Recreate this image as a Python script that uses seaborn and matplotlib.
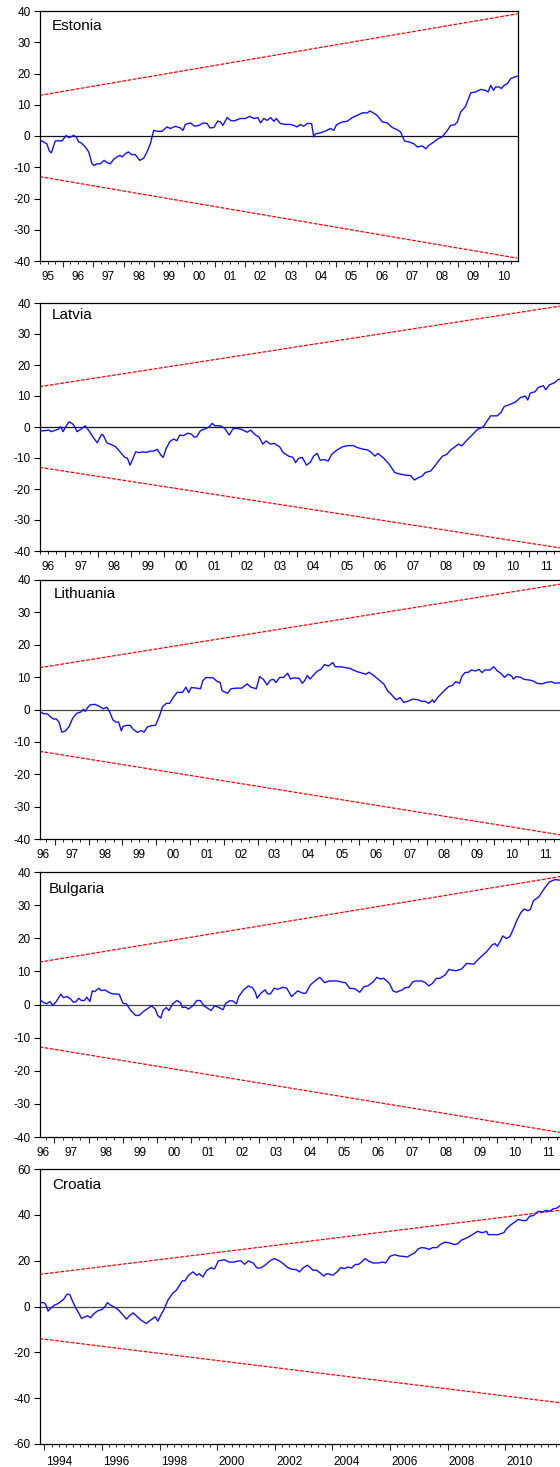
import numpy as np
import pandas as pd
import matplotlib
matplotlib.use("Agg")
import matplotlib.pyplot as plt
from matplotlib.ticker import FixedLocator
import seaborn as sns

# ---------------- DATA (CUSUM statistics) ----------------
countries = ["Estonia", "Latvia", "Lithuania", "Bulgaria", "Croatia"]

est_t = [1995.23, 1995.36, 1995.47, 1995.56, 1995.62, 1995.75, 1995.86, 1995.97, 1996.11, 1996.19,
         1996.26, 1996.35, 1996.44, 1996.52, 1996.60, 1996.74, 1996.85, 1996.96, 1997.03, 1997.12,
         1997.23, 1997.36, 1997.45, 1997.56, 1997.67, 1997.78, 1997.87, 1997.95, 1998.05, 1998.16,
         1998.27, 1998.38, 1998.53, 1998.66, 1998.77, 1998.88, 1998.99, 1999.10, 1999.26, 1999.43,
         1999.54, 1999.70, 1999.87, 1999.96, 2000.03, 2000.20, 2000.34, 2000.47, 2000.64, 2000.75,
         2000.84, 2000.97, 2001.10, 2001.19, 2001.27, 2001.41, 2001.52, 2001.63, 2001.74, 2001.85,
         2002.01, 2002.15, 2002.29, 2002.42, 2002.51, 2002.62, 2002.73, 2002.84, 2002.95, 2003.03,
         2003.16, 2003.33, 2003.49, 2003.60, 2003.71, 2003.82, 2003.93, 2004.04, 2004.19, 2004.26,
         2004.32, 2004.48, 2004.65, 2004.81, 2004.92, 2005.01, 2005.20, 2005.36, 2005.53, 2005.69,
         2005.86, 2006.02, 2006.11, 2006.22, 2006.35, 2006.52, 2006.68, 2006.85, 2007.01, 2007.12,
         2007.25, 2007.40, 2007.56, 2007.67, 2007.84, 2007.95, 2008.05, 2008.22, 2008.35, 2008.49,
         2008.66, 2008.77, 2008.90, 2008.99, 2009.10, 2009.26, 2009.43, 2009.59, 2009.76, 2009.92,
         2010.00, 2010.09, 2010.18, 2010.25, 2010.36, 2010.44, 2010.53, 2010.64, 2010.75, 2010.97]
est_v = [-1.2, -1.9, -2.5, -4.9, -5.4, -1.6, -1.5, -1.6, 0.2, -0.5,
         -0.3, 0.2, -0.3, -1.9, -2.2, -3.5, -5.1, -8.9, -9.4, -8.9,
         -8.9, -7.8, -8.5, -8.9, -7.5, -6.7, -6.2, -6.7, -5.7, -5.1,
         -6.0, -5.9, -7.8, -7.1, -5.1, -2.5, 1.8, 1.5, 1.5, 2.9,
         2.4, 3.1, 2.6, 1.8, 3.7, 4.2, 3.1, 3.4, 4.2, 4.0,
         2.6, 2.7, 4.8, 4.5, 3.4, 5.9, 5.0, 4.8, 5.2, 5.6,
         5.6, 6.3, 5.6, 5.9, 4.2, 5.6, 5.0, 5.9, 4.7, 5.6,
         4.0, 3.7, 3.7, 3.4, 2.9, 3.7, 3.1, 4.0, 4.0, -0.3,
         0.7, 1.0, 1.6, 2.4, 1.8, 3.6, 4.5, 4.7, 5.9, 6.6,
         7.4, 7.4, 8.0, 7.4, 6.6, 4.5, 4.2, 2.7, 2.0, 1.3,
         -1.6, -1.9, -2.5, -3.5, -3.2, -4.1, -3.0, -1.9, -0.9, -0.3,
         1.8, 3.4, 3.6, 4.5, 7.7, 9.5, 13.8, 14.1, 14.9, 14.6,
         14.1, 16.2, 14.6, 15.7, 15.7, 15.2, 16.2, 16.8, 18.4, 19.2]

lat_t = [1996.24, 1996.37, 1996.53, 1996.59, 1996.67, 1996.80, 1996.88, 1996.95, 1997.02, 1997.13,
         1997.24, 1997.29, 1997.37, 1997.48, 1997.62, 1997.73, 1997.87, 1997.98, 1998.11, 1998.16,
         1998.27, 1998.43, 1998.54, 1998.65, 1998.81, 1998.89, 1998.97, 1999.06, 1999.14, 1999.25,
         1999.35, 1999.46, 1999.57, 1999.68, 1999.79, 1999.90, 1999.97, 2000.06, 2000.17, 2000.28,
         2000.38, 2000.47, 2000.58, 2000.71, 2000.82, 2000.90, 2000.98, 2001.09, 2001.23, 2001.36,
         2001.45, 2001.52, 2001.69, 2001.82, 2001.96, 2002.07, 2002.17, 2002.34, 2002.50, 2002.61,
         2002.72, 2002.86, 2002.97, 2003.07, 2003.20, 2003.31, 2003.48, 2003.58, 2003.75, 2003.88,
         2003.96, 2004.05, 2004.16, 2004.29, 2004.40, 2004.51, 2004.61, 2004.70, 2004.83, 2004.94,
         2005.05, 2005.21, 2005.37, 2005.54, 2005.70, 2005.81, 2005.97, 2006.13, 2006.24, 2006.35,
         2006.44, 2006.62, 2006.78, 2006.95, 2007.11, 2007.27, 2007.43, 2007.54, 2007.65, 2007.78,
         2007.87, 2008.03, 2008.14, 2008.25, 2008.39, 2008.52, 2008.63, 2008.74, 2008.87, 2008.97,
         2009.11, 2009.28, 2009.44, 2009.55, 2009.62, 2009.73, 2009.84, 2010.04, 2010.15, 2010.25,
         2010.42, 2010.58, 2010.74, 2010.88, 2010.96, 2011.03, 2011.18, 2011.28, 2011.43, 2011.50,
         2011.61, 2011.77, 2011.88, 2011.97]
lat_v = [-1.3, -1.2, -1.0, -1.5, -1.2, -0.8, 0.1, -1.5, -0.1, 1.7,
         1.0, 0.3, -1.5, -0.8, 0.4, -1.2, -3.5, -5.1, -2.4, -2.6,
         -5.1, -5.8, -6.4, -7.8, -9.8, -10.1, -12.3, -10.1, -8.0, -8.3,
         -8.0, -8.2, -7.8, -7.8, -7.2, -9.1, -9.8, -6.9, -4.7, -3.9,
         -4.4, -2.6, -2.8, -2.0, -2.3, -3.3, -3.1, -1.2, -0.6, 0.1,
         1.2, 0.4, 0.4, -0.4, -2.6, -0.6, -0.4, -0.8, -1.7, -1.0,
         -2.3, -3.3, -5.5, -4.5, -5.5, -5.3, -6.4, -8.2, -9.4, -9.8,
         -11.5, -10.1, -9.8, -12.3, -11.4, -9.3, -8.5, -10.7, -10.5, -11.0,
         -8.8, -7.4, -6.4, -6.0, -6.0, -6.6, -7.1, -7.4, -8.2, -9.4,
         -8.5, -10.1, -12.0, -14.7, -15.2, -15.5, -15.7, -17.1, -16.4, -15.8,
         -14.7, -14.2, -12.8, -11.2, -9.4, -8.8, -7.4, -6.6, -5.5, -6.1,
         -4.4, -2.6, -0.8, -0.3, 0.1, 1.9, 3.6, 3.6, 4.7, 6.6,
         7.3, 8.0, 9.5, 10.0, 8.7, 10.9, 11.4, 12.8, 13.3, 12.0,
         13.6, 14.3, 15.4, 15.2]

lit_t = [1996.57, 1996.68, 1996.79, 1996.89, 1996.98, 1997.05, 1997.13, 1997.21, 1997.32, 1997.43,
         1997.53, 1997.66, 1997.77, 1997.85, 1997.90, 1997.96, 1998.04, 1998.19, 1998.33, 1998.44,
         1998.54, 1998.62, 1998.72, 1998.81, 1998.89, 1998.97, 1999.02, 1999.13, 1999.23, 1999.32,
         1999.45, 1999.55, 1999.64, 1999.74, 1999.85, 1999.98, 2000.09, 2000.19, 2000.30, 2000.40,
         2000.51, 2000.62, 2000.78, 2000.88, 2000.96, 2001.04, 2001.20, 2001.31, 2001.38, 2001.47,
         2001.60, 2001.68, 2001.81, 2001.89, 2001.95, 2002.11, 2002.21, 2002.37, 2002.53, 2002.69,
         2002.80, 2002.96, 2003.06, 2003.17, 2003.28, 2003.38, 2003.47, 2003.54, 2003.65, 2003.76,
         2003.89, 2003.97, 2004.07, 2004.23, 2004.32, 2004.39, 2004.47, 2004.55, 2004.66, 2004.77,
         2004.87, 2004.98, 2005.09, 2005.22, 2005.30, 2005.46, 2005.56, 2005.72, 2005.94, 2006.10,
         2006.20, 2006.29, 2006.41, 2006.57, 2006.73, 2006.84, 2006.95, 2007.05, 2007.11, 2007.21,
         2007.32, 2007.43, 2007.59, 2007.74, 2007.85, 2007.96, 2008.06, 2008.17, 2008.22, 2008.33,
         2008.49, 2008.65, 2008.76, 2008.86, 2008.97, 2009.04, 2009.13, 2009.23, 2009.32, 2009.45,
         2009.55, 2009.64, 2009.71, 2009.87, 2009.98, 2010.09, 2010.19, 2010.30, 2010.40, 2010.51,
         2010.56, 2010.65, 2010.78, 2010.88, 2011.04, 2011.15, 2011.26, 2011.41, 2011.55, 2011.68,
         2011.79, 2011.98]
lit_v = [-0.8, -1.3, -1.4, -2.4, -3.0, -2.9, -4.0, -7.0, -6.6, -5.2,
         -2.7, -1.1, -0.8, 0.1, -0.6, 0.4, 1.4, 1.6, 0.9, 0.2,
         0.7, -0.6, -3.2, -3.9, -3.9, -6.6, -5.2, -4.9, -4.9, -6.1,
         -7.1, -6.5, -7.0, -5.4, -5.0, -4.9, -2.2, 0.9, 1.9, 1.9,
         3.8, 5.3, 5.3, 6.9, 5.2, 6.8, 6.6, 6.4, 8.9, 9.9,
         9.8, 9.8, 8.6, 8.4, 5.8, 5.0, 6.4, 6.6, 6.6, 7.9,
         6.9, 6.4, 10.2, 9.3, 7.6, 9.1, 9.3, 8.3, 9.9, 9.9,
         11.2, 9.4, 9.8, 9.6, 8.1, 8.9, 10.5, 9.4, 10.7, 11.9,
         12.4, 13.9, 13.4, 14.5, 13.2, 13.2, 13.0, 12.7, 11.7, 11.2,
         10.9, 11.5, 10.7, 9.3, 7.9, 5.8, 4.7, 3.5, 3.0, 3.7,
         2.2, 2.5, 3.2, 3.0, 2.5, 2.5, 1.9, 3.0, 2.2, 3.8,
         5.5, 7.1, 7.4, 8.6, 8.1, 10.2, 11.4, 11.5, 12.2, 11.9,
         12.4, 11.4, 12.2, 12.2, 13.2, 11.9, 11.2, 9.9, 10.9, 10.4,
         9.4, 10.2, 9.9, 9.3, 9.1, 8.8, 8.1, 7.9, 8.4, 8.6,
         8.1, 8.3]

bul_t = [1996.58, 1996.68, 1996.77, 1996.87, 1996.95, 1997.05, 1997.19, 1997.26, 1997.37, 1997.48,
         1997.55, 1997.63, 1997.71, 1997.79, 1997.88, 1997.95, 1998.04, 1998.11, 1998.18, 1998.30,
         1998.37, 1998.48, 1998.64, 1998.74, 1998.90, 1999.01, 1999.11, 1999.24, 1999.38, 1999.48,
         1999.64, 1999.75, 1999.85, 1999.96, 2000.03, 2000.12, 2000.19, 2000.28, 2000.36, 2000.47,
         2000.59, 2000.70, 2000.75, 2000.86, 2000.93, 2001.07, 2001.18, 2001.28, 2001.39, 2001.49,
         2001.60, 2001.70, 2001.81, 2001.95, 2002.02, 2002.13, 2002.23, 2002.34, 2002.41, 2002.55,
         2002.69, 2002.81, 2002.90, 2002.95, 2003.06, 2003.18, 2003.26, 2003.34, 2003.45, 2003.55,
         2003.71, 2003.82, 2003.96, 2004.14, 2004.29, 2004.38, 2004.51, 2004.66, 2004.79, 2004.93,
         2005.06, 2005.30, 2005.46, 2005.54, 2005.67, 2005.83, 2005.96, 2006.09, 2006.20, 2006.36,
         2006.46, 2006.57, 2006.67, 2006.83, 2006.94, 2007.04, 2007.20, 2007.31, 2007.41, 2007.52,
         2007.62, 2007.78, 2007.89, 2007.99, 2008.10, 2008.21, 2008.31, 2008.47, 2008.58, 2008.65,
         2008.79, 2008.95, 2009.10, 2009.31, 2009.47, 2009.63, 2009.71, 2009.84, 2009.93, 2010.00,
         2010.09, 2010.16, 2010.27, 2010.37, 2010.46, 2010.58, 2010.69, 2010.79, 2010.90, 2010.97,
         2011.06, 2011.22, 2011.38, 2011.53, 2011.69, 2011.88]
bul_v = [1.4, 0.6, 0.2, 0.9, -0.3, 0.9, 3.1, 2.1, 2.4, 1.6,
         0.7, 0.8, 1.9, 1.2, 1.2, 2.2, 0.9, 4.1, 3.9, 4.9,
         4.2, 4.4, 3.4, 3.2, 3.1, 0.4, 0.2, -1.8, -3.3, -3.3,
         -1.9, -1.1, -0.4, -1.4, -3.3, -4.1, -1.8, -0.9, -1.8, 0.2,
         1.2, 0.6, -0.9, -0.8, -1.4, -0.3, 1.2, 1.2, -0.4, -1.1,
         -1.8, -0.4, -0.8, -1.6, 0.2, 1.1, 1.1, 0.2, 2.4, 4.4,
         5.6, 5.1, 3.6, 1.9, 3.4, 4.4, 3.2, 3.2, 4.9, 4.6,
         5.2, 4.9, 2.4, 4.1, 3.4, 3.4, 5.9, 7.2, 8.2, 6.6,
         7.1, 7.1, 6.7, 6.6, 4.9, 4.7, 3.7, 5.4, 5.6, 6.9,
         8.2, 7.7, 7.9, 6.4, 4.1, 3.7, 4.4, 5.1, 5.2, 6.9,
         7.1, 7.1, 6.6, 5.6, 6.4, 7.9, 7.9, 8.9, 10.6, 10.4,
         10.2, 10.7, 12.4, 12.2, 13.9, 15.4, 16.2, 17.9, 18.4, 17.6,
         19.1, 20.7, 19.9, 20.5, 22.5, 25.5, 27.7, 28.8, 28.3, 28.7,
         31.3, 32.5, 35.0, 37.0, 37.7, 37.5]

cro_t = [1993.85, 1993.98, 1994.04, 1994.13, 1994.23, 1994.35, 1994.48, 1994.58, 1994.66, 1994.79,
         1994.88, 1994.98, 1995.10, 1995.19, 1995.29, 1995.41, 1995.50, 1995.60, 1995.73, 1995.85,
         1996.00, 1996.10, 1996.19, 1996.29, 1996.45, 1996.58, 1996.73, 1996.85, 1996.95, 1997.08,
         1997.23, 1997.35, 1997.54, 1997.66, 1997.85, 1997.94, 1998.04, 1998.14, 1998.29, 1998.45,
         1998.58, 1998.66, 1998.79, 1998.88, 1999.00, 1999.16, 1999.29, 1999.38, 1999.50, 1999.64,
         1999.79, 1999.85, 1999.91, 2000.04, 2000.25, 2000.41, 2000.60, 2000.73, 2000.83, 2000.95,
         2001.08, 2001.25, 2001.38, 2001.50, 2001.66, 2001.85, 2001.98, 2002.13, 2002.29, 2002.45,
         2002.60, 2002.75, 2002.85, 2003.00, 2003.13, 2003.23, 2003.33, 2003.45, 2003.58, 2003.70,
         2003.79, 2003.91, 2004.01, 2004.16, 2004.29, 2004.41, 2004.54, 2004.66, 2004.79, 2004.91,
         2005.04, 2005.13, 2005.25, 2005.41, 2005.60, 2005.75, 2005.85, 2006.00, 2006.16, 2006.33,
         2006.45, 2006.60, 2006.73, 2006.85, 2006.98, 2007.10, 2007.23, 2007.35, 2007.48, 2007.63,
         2007.75, 2007.91, 2008.08, 2008.23, 2008.35, 2008.50, 2008.66, 2008.85, 2009.04, 2009.20,
         2009.35, 2009.41, 2009.58, 2009.73, 2009.95, 2010.04, 2010.20, 2010.33, 2010.45, 2010.60,
         2010.73, 2010.85, 2010.98, 2011.06, 2011.16, 2011.29, 2011.41, 2011.54, 2011.66, 2011.79,
         2011.88, 2011.95]
cro_v = [1.7, 1.7, 1.0, -2.0, -0.6, 0.6, 1.3, 2.3, 3.0, 5.4,
         5.2, 2.3, -0.9, -2.8, -5.2, -4.5, -4.1, -4.9, -3.0, -1.9,
         -1.3, -0.1, 1.7, 0.6, -0.4, -1.6, -3.8, -5.5, -4.1, -2.8,
         -4.5, -5.9, -7.4, -6.2, -4.5, -6.4, -3.8, -1.6, 2.8, 5.7,
         7.1, 8.6, 11.2, 11.2, 13.6, 15.1, 13.6, 14.3, 12.9, 15.8,
         17.0, 16.5, 16.5, 19.9, 20.4, 19.4, 19.4, 19.9, 19.9, 18.4,
         19.9, 19.0, 16.8, 16.8, 18.0, 20.1, 20.9, 20.1, 18.7, 17.0,
         16.2, 16.1, 15.1, 17.0, 18.0, 17.0, 15.8, 15.8, 14.6, 13.3,
         14.3, 14.1, 13.6, 15.1, 17.0, 16.5, 17.2, 16.8, 18.3, 18.4,
         19.7, 20.9, 19.9, 19.0, 19.0, 19.4, 19.0, 21.9, 22.6, 22.0,
         21.9, 21.6, 22.6, 23.3, 25.2, 25.7, 25.5, 24.9, 25.7, 25.7,
         27.1, 28.1, 27.7, 27.0, 27.4, 29.1, 29.9, 31.3, 32.8, 32.2,
         32.8, 31.3, 31.4, 31.3, 32.2, 33.9, 35.7, 36.8, 38.0, 37.5,
         37.5, 39.4, 39.7, 40.7, 41.6, 41.2, 41.9, 41.6, 42.6, 42.9,
         43.8, 44.3]

# 5% significance bounds: value at start and at end of sample (symmetric)
est_bound = [13.0, 39.1]
lat_bound = [13.0, 39.1]
lit_bound = [12.9, 38.8]
bul_bound = [12.8, 38.7]
cro_bound = [14.0, 42.1]

# sample range (decimal years)
est_range = [1995.23, 2010.97]
lat_range = [1996.24, 2011.99]
lit_range = [1996.55, 2012.00]
bul_range = [1996.56, 2011.90]
cro_range = [1993.83, 2011.97]

# x tick labels
cro_label_years = [1994, 1996, 1998, 2000, 2002, 2004, 2006, 2008, 2010]

est_y_ticks = [-40, -30, -20, -10, 0, 10, 20, 30, 40]
cro_y_ticks = [-60, -40, -20, 0, 20, 40, 60]

# ---------------- FIGURE ----------------
sns.set_theme(style="ticks")
plt.rcParams['font.family'] = ['Liberation Sans', 'DejaVu Sans']

W, H = 560, 1467
fig = plt.figure(figsize=(W / 100, H / 100), dpi=100)

# (left px, right px, top px, bottom px)
layout = [
    (39.5, 517.5, 11, 261),
    (39.5, 562, 303, 551),
    (39.5, 562, 580, 839),
    (39.5, 562, 872, 1137),
    (39.5, 562, 1169, 1444),
]
title_offsets = [(12, -8), (12, -5), (14, -7), (9, -10), (13, -9)]

series = [
    (est_t, est_v, est_bound, est_range, est_y_ticks),
    (lat_t, lat_v, lat_bound, lat_range, est_y_ticks),
    (lit_t, lit_v, lit_bound, lit_range, est_y_ticks),
    (bul_t, bul_v, bul_bound, bul_range, est_y_ticks),
    (cro_t, cro_v, cro_bound, cro_range, cro_y_ticks),
]

for i, (name, (t, v, bnd, rng, yt)) in enumerate(zip(countries, series)):
    l, r, top, bot = layout[i]
    ax = fig.add_axes([l / W, 1 - bot / H, (r - l) / W, (bot - top) / H])
    ax.set_facecolor("white")

    zero_col = "#111111" if i < 2 else "#444444"
    ax.axhline(0, color=zero_col, lw=0.9, zorder=1)

    bx = [rng[0], rng[1]]
    ax.plot(bx, [bnd[0], bnd[1]], color="#ff0000", lw=0.9, dashes=(3, 1.2), zorder=2)
    ax.plot(bx, [-bnd[0], -bnd[1]], color="#ff0000", lw=0.9, dashes=(3, 1.2), zorder=2)

    df = pd.DataFrame({"t": t, "v": v})
    sns.lineplot(data=df, x="t", y="v", ax=ax, color="#1010ff", lw=1.0,
                 estimator=None, sort=False, zorder=3)

    ax.set_xlim(rng[0], rng[1])
    ax.set_ylim(yt[0], yt[-1])
    ax.set_xlabel("")
    ax.set_ylabel("")

    for s in ["left", "bottom", "top", "right"]:
        ax.spines[s].set_visible(True)
        ax.spines[s].set_color("black")
        ax.spines[s].set_linewidth(0.9)

    ax.set_yticks(yt)
    ax.set_yticklabels([str(x) for x in yt])
    ax.tick_params(axis="y", direction="out", length=4.5, width=0.8, pad=2,
                   labelsize=8.5, colors="black", left=True, right=False)

    y0 = int(np.floor(rng[0]))
    y1 = int(np.ceil(rng[1]))
    if i < 4:
        majors = list(range(y0, y1 + 1))
        lab_years = list(range(y0, y1))
        labels = [str(y)[2:] for y in lab_years]
    else:
        majors = list(range(1994, 2013, 2))
        lab_years = cro_label_years
        labels = [str(y) for y in lab_years]
    ax.xaxis.set_major_locator(FixedLocator(majors))
    ax.xaxis.set_minor_locator(FixedLocator([y0 + q / 4 for q in range((y1 - y0) * 4 + 1)]))
    ax.tick_params(axis="x", which="major", direction="out", length=4, width=0.8,
                   labelbottom=False, bottom=True, top=False)
    ax.tick_params(axis="x", which="minor", direction="out", length=2.2, width=0.7,
                   bottom=True, top=False)

    pos = [max(y + 0.5, rng[0] + 0.1) for y in lab_years]
    keep = [(p, s) for p, s in zip(pos, labels) if rng[0] <= p <= rng[1]]
    sec = ax.secondary_xaxis("bottom")
    sec.set_xticks([p for p, _ in keep], labels=[s for _, s in keep])
    sec.tick_params(length=0, pad=7.5 if i < 4 else 8.5, labelsize=8.5, colors="black")
    sec.spines["bottom"].set_visible(False)

    ax.annotate(name, xy=(0, 1), xycoords="axes fraction", xytext=title_offsets[i],
                textcoords="offset pixels", ha="left", va="top", fontsize=11,
                color="black")

fig.savefig("out.png", dpi=100)
